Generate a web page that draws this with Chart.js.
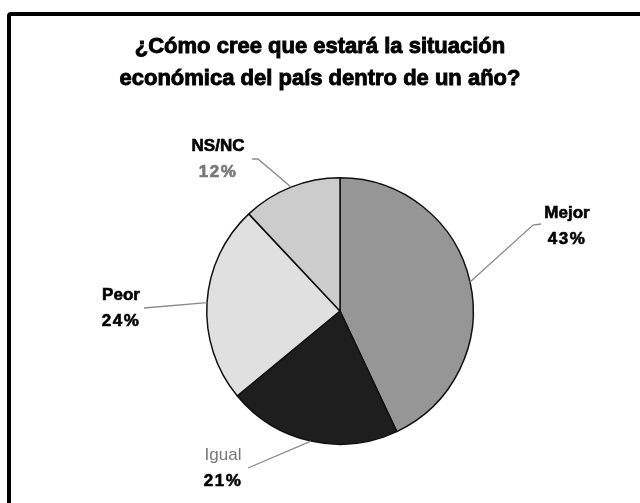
<!DOCTYPE html>
<html lang="es">
<head>
    <meta charset="UTF-8">
    <title>Situación económica</title>
    <script src="https://cdn.jsdelivr.net/npm/chart.js"></script>
    <style>
        body {
            margin: 0;
            width: 640px;
            height: 503px;
            overflow: hidden;
            background: white;
            position: relative;
        }
        #frame {
            position: absolute;
            left: 7px;
            top: 12px;
            width: 700px;
            height: 600px;
            border: 4px solid black;
            border-radius: 4px;
        }
        #chart {
            position: absolute;
            left: 0;
            top: 0;
        }
    </style>
</head>
<body>
    <div id="frame"></div>
    <canvas id="chart" width="640" height="503"></canvas>

    <script>
        const categories = ['Mejor', 'Igual', 'Peor', 'NS/NC'];
        const percents = [43, 21, 24, 12];
        const sliceColors = ['#969696', '#1e1e1e', '#e0e0e0', '#cccccc'];
        const titleLines = ['¿Cómo cree que estará la situación', 'económica del país dentro de un año?'];

        const FONT = '"Liberation Sans", Arial, sans-serif';

        // where each label sits, relative to the pie centre
        const labelLayout = [
            { line: [[193, -86], [201, -87]], x: 227, y: -98, nameColor: '#000', nameBold: true, pctColor: '#000' },
            { line: [[-92, 157]], x: -117, y: 144, nameColor: '#777', nameBold: false, pctColor: '#000' },
            { line: [[-196, -3]], x: -219, y: -16, nameColor: '#000', nameBold: true, pctColor: '#000' },
            { line: [[-82, -152], [-88, -152]], x: -122, y: -165, nameColor: '#000', nameBold: true, pctColor: '#777' }
        ];

        // heavy text: fill plus a thin stroke of the same colour
        function heavyText(ctx, text, x, y, color, bold, size, stroke) {
            ctx.font = (bold ? 'bold ' : '') + size + 'px ' + FONT;
            ctx.fillStyle = color;
            ctx.fillText(text, x, y);
            if (bold && stroke) {
                ctx.strokeStyle = color;
                ctx.lineWidth = stroke;
                ctx.strokeText(text, x, y);
            }
        }

        const pieLabels = {
            id: 'pieLabels',
            afterDraw(chart) {
                const ctx = chart.ctx;
                ctx.save();
                ctx.textAlign = 'center';
                ctx.textBaseline = 'middle';
                titleLines.forEach((t, i) => {
                    heavyText(ctx, t, chart.width / 2, 47 + i * 32, '#000', true, 22, 0.9);
                });
                ctx.restore();

                const arcs = chart.getDatasetMeta(0).data;
                arcs.forEach((arc, i) => {
                    const lay = labelLayout[i];
                    const cx = arc.x, cy = arc.y;
                    const mid = (arc.startAngle + arc.endAngle) / 2;
                    const sx = cx + Math.cos(mid) * arc.outerRadius;
                    const sy = cy + Math.sin(mid) * arc.outerRadius;

                    ctx.save();
                    ctx.strokeStyle = '#8a8a8a';
                    ctx.lineWidth = 1.3;
                    ctx.beginPath();
                    ctx.moveTo(sx, sy);
                    lay.line.forEach(p => ctx.lineTo(cx + p[0], cy + p[1]));
                    ctx.stroke();

                    ctx.textAlign = 'center';
                    ctx.textBaseline = 'middle';
                    heavyText(ctx, categories[i], cx + lay.x, cy + lay.y, lay.nameColor, lay.nameBold, 17, 0.6);
                    ctx.letterSpacing = '1.5px';
                    heavyText(ctx, percents[i] + '%', cx + lay.x, cy + lay.y + 26, lay.pctColor, true, 17, 0.6);
                    ctx.restore();
                });
            }
        };

        new Chart(document.getElementById('chart'), {
            type: 'pie',
            data: {
                labels: categories,
                datasets: [{
                    data: percents,
                    backgroundColor: sliceColors,
                    borderColor: '#111',
                    borderWidth: 1.5
                }]
            },
            options: {
                responsive: false,
                animation: false,
                layout: {
                    padding: { top: 177, bottom: 58, left: 100, right: 60 }
                },
                plugins: {
                    legend: { display: false },
                    tooltip: { enabled: false },
                    title: { display: false }
                }
            },
            plugins: [pieLabels]
        });
    </script>
</body>
</html>
